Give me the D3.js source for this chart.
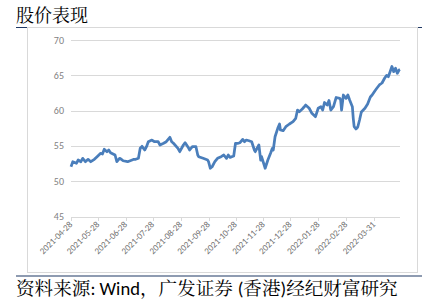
<!DOCTYPE html>
<html>
<head>
<meta charset="utf-8">
<script src="https://cdn.jsdelivr.net/npm/d3@7"></script>
<style>
  body { margin: 0; background: #fff; }
  svg { display: block; }
</style>
</head>
<body>
<script>
// price series
var dates = ['2021-04-28','2021-04-30','2021-05-04','2021-05-06','2021-05-09','2021-05-11','2021-05-14','2021-05-17','2021-05-20','2021-05-24','2021-05-27','2021-05-31',
  '2021-06-02','2021-06-04','2021-06-07','2021-06-09','2021-06-11','2021-06-16','2021-06-18','2021-06-21','2021-06-23','2021-06-25','2021-06-30',
  '2021-07-05','2021-07-07','2021-07-09','2021-07-12','2021-07-14','2021-07-16','2021-07-19','2021-07-21','2021-07-23','2021-07-27','2021-07-30',
  '2021-08-03','2021-08-05','2021-08-09','2021-08-12','2021-08-16','2021-08-18','2021-08-20','2021-08-25','2021-08-27','2021-08-31',
  '2021-09-02','2021-09-06','2021-09-07','2021-09-10','2021-09-14','2021-09-16','2021-09-17','2021-09-22','2021-09-27','2021-09-28','2021-09-30',
  '2021-10-02','2021-10-05','2021-10-08','2021-10-12','2021-10-15','2021-10-18','2021-10-20','2021-10-22','2021-10-26','2021-10-28','2021-10-31',
  '2021-11-02','2021-11-05','2021-11-07','2021-11-09','2021-11-12','2021-11-15','2021-11-18','2021-11-19','2021-11-23','2021-11-25','2021-11-26','2021-11-30',
  '2021-12-03','2021-12-06','2021-12-08','2021-12-09','2021-12-11','2021-12-14','2021-12-16','2021-12-17','2021-12-20','2021-12-23','2021-12-27','2021-12-31',
  '2022-01-03','2022-01-05','2022-01-07','2022-01-10','2022-01-12','2022-01-14','2022-01-18','2022-01-21','2022-01-25','2022-01-28','2022-01-31',
  '2022-02-02','2022-02-04','2022-02-07','2022-02-09','2022-02-11','2022-02-14','2022-02-17','2022-02-21','2022-02-22','2022-02-23','2022-02-25','2022-02-28',
  '2022-03-02','2022-03-04','2022-03-07','2022-03-08','2022-03-09','2022-03-11','2022-03-13','2022-03-15','2022-03-17','2022-03-21','2022-03-24','2022-03-27','2022-03-29',
  '2022-04-01','2022-04-03','2022-04-06','2022-04-09','2022-04-12','2022-04-14','2022-04-16','2022-04-18','2022-04-20','2022-04-22','2022-04-24','2022-04-26','2022-04-28','2022-04-29'];
var prices = [52.05,52.75,52.53,53.0,52.76,53.24,52.76,53.1,52.76,53.1,53.47,53.95,
  53.85,54.52,54.18,54.42,54.04,53.71,52.76,53.24,53.1,52.9,52.76,
  53.0,53.1,53.1,53.24,54.66,54.94,54.42,54.89,55.59,55.83,55.59,
  55.59,55.13,55.37,55.59,56.22,55.59,55.37,54.66,54.18,55.13,
  55.45,54.66,54.42,54.89,54.89,53.71,53.47,53.24,53.0,52.76,51.83,
  52.05,52.76,53.24,53.47,53.71,53.24,53.71,53.38,53.57,55.37,55.37,
  55.45,55.93,55.59,55.83,55.73,55.59,54.42,54.18,55.13,53.0,53.47,51.83,
  53.0,53.95,54.66,54.42,56.3,57.49,58.1,57.25,57.15,57.72,58.1,58.43,
  58.91,60.08,59.84,60.18,60.47,60.79,60.33,59.62,59.14,60.33,60.55,
  60.08,61.15,60.79,61.43,60.08,60.55,61.86,61.74,61.5,60.08,62.21,61.74,
  62.21,61.5,60.55,58.91,57.72,57.39,57.68,58.67,59.8,60.33,60.93,61.93,62.21,
  62.78,63.13,63.63,63.91,64.62,64.97,64.8,65.51,66.25,65.51,65.99,65.28,65.75,65.82];

var yTicks = [45, 50, 55, 60, 65, 70];
var xTicks = ['2021-04-28','2021-05-28','2021-06-28','2021-07-28','2021-08-28','2021-09-28',
  '2021-10-28','2021-11-28','2021-12-28','2022-01-28','2022-02-28','2022-03-31'];

var W = 427, H = 304;
var parse = d3.timeParse('%Y-%m-%d');
var data = dates.map(function(d, i) { return { date: parse(d), v: prices[i] }; });

var svg = d3.select('body').append('svg')
    .attr('width', W)
    .attr('height', H);

var serif = '"Noto Serif CJK SC", SimSun, "Noto Sans CJK SC", serif';
var sans = 'Carlito, "Open Sans", "Liberation Sans", sans-serif';

// navy rules under title and above source
svg.append('line').attr('x1', 16).attr('x2', 422).attr('y1', 27.5).attr('y2', 27.5)
    .attr('stroke', '#1f3864').attr('stroke-width', 1.2);
svg.append('line').attr('x1', 16).attr('x2', 422).attr('y1', 276).attr('y2', 276)
    .attr('stroke', '#1f3864').attr('stroke-width', 1.2);

// chart frame
svg.append('rect').attr('x', 27.5).attr('y', 27.5).attr('width', 390).attr('height', 245)
    .attr('fill', '#fff').attr('stroke', '#d9d9d9').attr('stroke-width', 1);

svg.append('text').attr('x', 16).attr('y', 22)
    .attr('font-family', serif)
    .attr('font-size', 18).attr('fill', '#000')
    .text('股价表现');

// source line: CJK in serif, latin bits in sans
var src = svg.append('text').attr('x', 16).attr('y', 295)
    .attr('font-size', 18.6).attr('fill', '#000');
[['资料来源', serif], [': Wind', sans], ['，广发证券 ', serif], ['(', sans], ['香港', serif], [')', sans], ['经纪财富研究', serif]]
  .forEach(function(p) {
      src.append('tspan').attr('font-family', p[1]).text(p[0]);
  });

var x = d3.scaleTime()
    .domain([parse('2021-04-28'), parse('2022-04-29')])
    .range([71, 400]);
var y = d3.scaleLinear().domain([45, 70]).range([216.5, 40]);

// gridlines
svg.append('g').selectAll('line').data(yTicks).enter().append('line')
    .attr('x1', 71).attr('x2', 400)
    .attr('y1', function(d) { return Math.round(y(d)) + 0.5; })
    .attr('y2', function(d) { return Math.round(y(d)) + 0.5; })
    .attr('stroke', '#d9d9d9').attr('stroke-width', 1);

svg.append('g').selectAll('text').data(yTicks).enter().append('text')
    .attr('x', 64).attr('y', function(d) { return y(d) + 3.5; })
    .attr('text-anchor', 'end')
    .attr('font-family', sans)
    .attr('font-size', 10).attr('fill', '#7f7f7f')
    .text(function(d) { return d; });

// x axis ticks and rotated labels
var xt = svg.append('g');
xt.selectAll('line').data(xTicks).enter().append('line')
    .attr('x1', function(d) { return Math.round(x(parse(d))) + 0.5; })
    .attr('x2', function(d) { return Math.round(x(parse(d))) + 0.5; })
    .attr('y1', 217).attr('y2', 221)
    .attr('stroke', '#d9d9d9');
xt.selectAll('text').data(xTicks).enter().append('text')
    .attr('transform', function(d) { return 'translate(' + (x(parse(d)) + 2) + ',' + 225 + ') rotate(-45)'; })
    .attr('text-anchor', 'end')
    .attr('font-family', sans)
    .attr('font-size', 9).attr('fill', '#6f6f6f')
    .text(function(d) { return d; });

var line = d3.line()
    .x(function(d) { return x(d.date); })
    .y(function(d) { return y(d.v); });

svg.append('path').datum(data)
    .attr('d', line)
    .attr('fill', 'none')
    .attr('stroke', '#4a7ebb')
    .attr('stroke-width', 2.75)
    .attr('stroke-linejoin', 'round');
</script>
</body>
</html>
